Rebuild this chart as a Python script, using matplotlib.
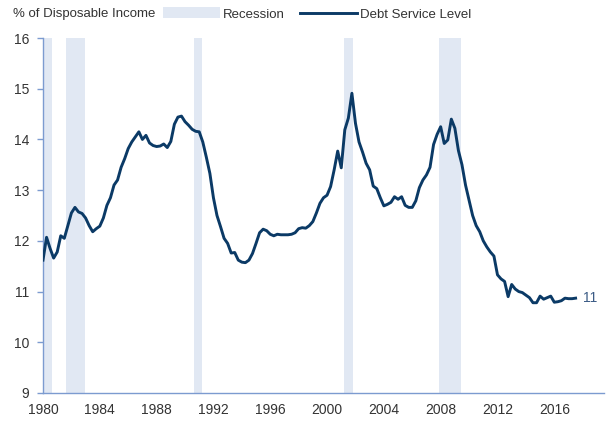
import matplotlib
matplotlib.use("Agg")
import matplotlib.pyplot as plt
import numpy as np
from matplotlib.patches import Patch
from matplotlib.lines import Line2D

plt.rcParams['font.family'] = ['Liberation Sans', 'DejaVu Sans']

# quarterly debt service ratio, 1980Q1 onwards
debt_service = [
    11.62, 12.07, 11.85, 11.66,   # 1980
    11.78, 12.10, 12.05, 12.30,   # 1981
    12.55, 12.66, 12.57, 12.54,   # 1982
    12.45, 12.30, 12.18, 12.24,   # 1983
    12.29, 12.45, 12.70, 12.85,   # 1984
    13.10, 13.20, 13.45, 13.62,   # 1985
    13.82, 13.95, 14.05, 14.15,   # 1986
    14.00, 14.08, 13.93, 13.88,   # 1987
    13.86, 13.87, 13.91, 13.84,   # 1988
    13.96, 14.30, 14.44, 14.46,   # 1989
    14.35, 14.28, 14.20, 14.16,   # 1990
    14.15, 13.95, 13.65, 13.33,   # 1991
    12.85, 12.50, 12.28, 12.05,   # 1992
    11.95, 11.76, 11.77, 11.62,   # 1993
    11.58, 11.57, 11.62, 11.75,   # 1994
    11.95, 12.16, 12.23, 12.20,   # 1995
    12.13, 12.10, 12.13, 12.12,   # 1996
    12.12, 12.12, 12.13, 12.16,   # 1997
    12.24, 12.26, 12.25, 12.30,   # 1998
    12.38, 12.55, 12.74, 12.85,   # 1999
    12.90, 13.07, 13.40, 13.77,   # 2000
    13.44, 14.19, 14.42, 14.91,   # 2001
    14.32, 13.95, 13.75, 13.53,   # 2002
    13.40, 13.08, 13.03, 12.85,   # 2003
    12.69, 12.72, 12.76, 12.87,   # 2004
    12.82, 12.87, 12.70, 12.66,   # 2005
    12.66, 12.79, 13.05, 13.20,   # 2006
    13.30, 13.45, 13.90, 14.10,   # 2007
    14.25, 13.92, 13.99, 14.40,   # 2008
    14.22, 13.78, 13.50, 13.10,   # 2009
    12.80, 12.50, 12.30, 12.18,   # 2010
    12.00, 11.88, 11.78, 11.70,   # 2011
    11.33, 11.25, 11.20, 10.90,   # 2012
    11.14, 11.05, 11.00, 10.98,   # 2013
    10.93, 10.88, 10.78, 10.78,   # 2014
    10.91, 10.85, 10.88, 10.91,   # 2015
    10.79, 10.80, 10.82, 10.87,   # 2016
    10.86, 10.86, 10.87,          # 2017
]
years = 1980 + np.arange(len(debt_service)) / 4.0

recessions = [(1980.0, 1980.6), (1981.6, 1982.95), (1990.6, 1991.2),
              (2001.2, 2001.85), (2007.9, 2009.45)]

x_ticks = [1980, 1984, 1988, 1992, 1996, 2000, 2004, 2008, 2012, 2016]
y_ticks = [9, 10, 11, 12, 13, 14, 15, 16]

navy = '#0b3a66'
band = '#e1e8f3'
spine = '#7c9bd0'
txt = '#333333'
fs = 10

fig = plt.figure(figsize=(6.09, 4.21), dpi=100)
ax = fig.add_axes([43/609, 28/421, 561/609, 355/421])

for a, b in recessions:
    ax.axvspan(a, b, color=band, lw=0, zorder=1)

ax.plot(years, debt_service, color=navy, lw=2.1, zorder=3)
ax.text(years[-1] + 0.55, debt_service[-1], '11', color='#3b5b85',
        fontsize=fs, va='center', ha='left')

ax.set_xlim(1980, 2019.5)
ax.set_ylim(9, 16)
ax.set_xticks(x_ticks)
ax.set_yticks(y_ticks)
ax.tick_params(axis='x', length=0, pad=7, labelsize=fs, labelcolor=txt)
ax.tick_params(axis='y', length=4, width=1, color=spine, pad=6,
               labelsize=fs, labelcolor=txt)
for s in ['top', 'right']:
    ax.spines[s].set_visible(False)
for s in ['left', 'bottom']:
    ax.spines[s].set_color(spine)
    ax.spines[s].set_linewidth(1.0)

fig.text(13/609, 1 - 14/421, '% of Disposable Income', fontsize=9.5,
         color=txt, va='center', ha='left')
handles = [Patch(facecolor=band, edgecolor='none'),
           Line2D([0], [0], color=navy, lw=2.1)]
fig.legend(handles, ['Recession', 'Debt Service Level'], ncol=2,
           loc='center left', bbox_to_anchor=(163/609, 1 - 14/421),
           borderpad=0, borderaxespad=0,
           frameon=False, fontsize=9.5, handlelength=4.3, handleheight=0.9,
           handletextpad=0.25, columnspacing=1.15, labelcolor=txt)

fig.savefig('out.png', dpi=100)
